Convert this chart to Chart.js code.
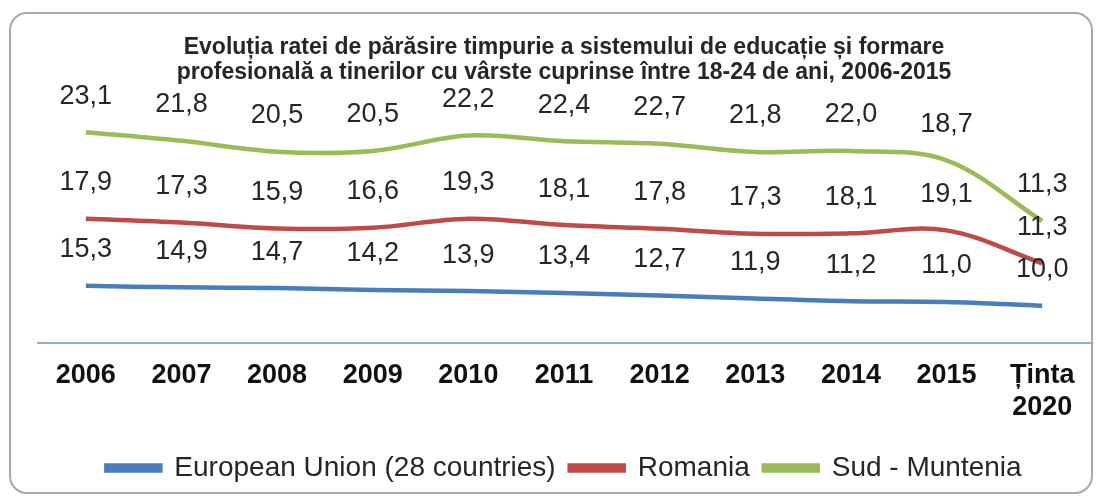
<!DOCTYPE html>
<html>
<head>
<meta charset="utf-8">
<script src="https://cdn.jsdelivr.net/npm/chart.js@4"></script>
<style>
  body { margin: 0; background: #fff; }
  .frame {
    position: absolute; left: 9px; top: 12px; width: 1080px; height: 478px;
    border: 2px solid #a8a8a8; border-radius: 18px;
  }
  .chart-box { position: absolute; left: 0; top: 0; width: 1101px; height: 502px; }
</style>
</head>
<body>
<div class="frame"></div>
<div class="chart-box"><canvas id="chart" width="1101" height="502"></canvas></div>
<script>
const categories = ['2006', '2007', '2008', '2009', '2010', '2011', '2012', '2013', '2014', '2015', ['Ținta', '2020']];
const euValues = [15.3, 14.9, 14.7, 14.2, 13.9, 13.4, 12.7, 11.9, 11.2, 11.0, 10.0];
const romaniaValues = [17.9, 17.3, 15.9, 16.6, 19.3, 18.1, 17.8, 17.3, 18.1, 19.1, 11.3];
const sudValues = [23.1, 21.8, 20.5, 20.5, 22.2, 22.4, 22.7, 21.8, 22.0, 18.7, 11.3];

const FONT = "'Liberation Sans', Arial, sans-serif";

// value labels above every point, comma as decimal separator
const valueLabels = {
    id: 'valueLabels',
    afterDatasetsDraw(chart) {
        const ctx = chart.ctx;
        ctx.save();
        ctx.font = '27px ' + FONT;
        ctx.fillStyle = '#262626';
        ctx.textAlign = 'center';
        ctx.textBaseline = 'middle';
        chart.data.datasets.forEach((ds, i) => {
            chart.getDatasetMeta(i).data.forEach((pt, j) => {
                ctx.fillText(ds.data[j].toFixed(1).replace('.', ','), pt.x, pt.y - 36);
            });
        });
        ctx.restore();
    }
};

function line(label, data, color) {
    return {
        label: label,
        data: data,
        borderColor: color,
        backgroundColor: color,
        borderWidth: 4.5,
        pointRadius: 0,
        tension: 0.35,
        fill: false
    };
}

new Chart(document.getElementById('chart'), {
    type: 'line',
    data: {
        labels: categories,
        datasets: [
            line('European Union (28 countries)', euValues, '#4a7ebb'),
            line('Romania', romaniaValues, '#be4b48'),
            line('Sud - Muntenia', sudValues, '#9bbb59')
        ]
    },
    options: {
        responsive: false,
        animation: false,
        layout: { padding: { left: 38, right: 11, top: 0, bottom: 10 } },
        plugins: {
            title: {
                display: true,
                text: ['Evoluția ratei de părăsire timpurie a sistemului de educație și formare',
                       'profesională a tinerilor cu vârste cuprinse între 18-24 de ani, 2006-2015'],
                font: { family: FONT, size: 23, weight: 'bold', lineHeight: 1.05 },
                color: '#262626',
                padding: { top: 36, bottom: 4 }
            },
            legend: {
                position: 'bottom',
                labels: {
                    boxWidth: 54,
                    boxHeight: 5,
                    font: { family: FONT, size: 28 },
                    color: '#262626',
                    padding: 14
                }
            },
            tooltip: { enabled: false }
        },
        scales: {
            x: {
                offset: true,
                grid: { display: false, drawTicks: false },
                border: { display: true, color: '#8fb0c8', width: 2 },
                ticks: {
                    font: { family: FONT, size: 27, weight: 'bold' },
                    color: '#111',
                    padding: 16,
                    maxRotation: 0
                }
            },
            y: {
                display: false,
                stacked: true,
                min: 0,
                max: 68
            }
        }
    },
    plugins: [valueLabels]
});
</script>
</body>
</html>
